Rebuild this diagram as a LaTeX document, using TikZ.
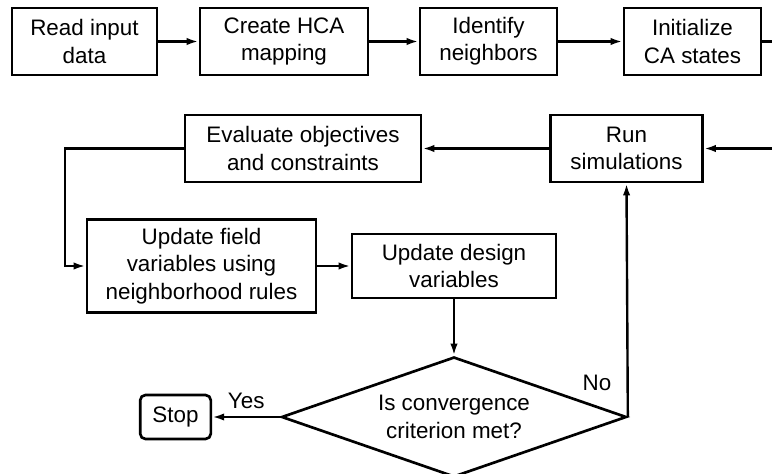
\documentclass[tikz,border=0pt]{standalone}
\usepackage{fontspec}
\setmainfont{Liberation Sans}
\usetikzlibrary{shapes.geometric,arrows.meta}

\tikzset{
  lbl/.style={font=\fontsize{16.8}{20.5}\selectfont},
  blk/.style={lbl, draw, line width=2pt, minimum height=50.25pt, align=center, inner sep=2pt},
  flow/.style={line width=1.8pt, -{Latex[length=9pt,width=5.5pt]}},
}

\begin{document}
\begin{tikzpicture}[x=0.75pt,y=-0.75pt]

    \useasboundingbox (0,0) rectangle (772,474);

    % Setup row
     \node[blk, minimum width=108.75pt] (read) at (84.5,41.5) {Read input\\data};
     \node[blk, minimum width=126pt] (hca) at (284,41.5) {Create HCA\\mapping};
     \node[blk, minimum width=102.75pt] (nbr) at (488.5,41.5) {Identify\\neighbors};
     \node[blk, minimum width=102.75pt] (init) at (692.5,41.5) {Initialize\\CA states};
     \draw[flow] (read) -- (hca);
     \draw[flow] (hca) -- (nbr);
     \draw[flow] (nbr) -- (init);

    % Simulation and evaluation
     \node[blk, minimum width=114pt] (run) at (626.5,148.5) {Run\\simulations};
     \node[blk, minimum width=177pt] (eval) at (303,148.5) {Evaluate objectives\\and constraints};
     \coordinate (rturn) at (790,41.5); % goes off the page on the right
     \draw[flow] (init.east) -- (rturn) |- (run.east);
     \draw[flow] (run.west) -- (eval.east);

    % Updates
     \node[blk, minimum width=171.75pt, minimum height=70pt] (field) at (201.5,266) {Update field\\variables using\\neighborhood rules};
     \node[blk, minimum width=153pt, minimum height=48pt] (design) at (454,266) {Update design\\variables};
     \coordinate (lturn) at (65,148.5);
     \draw[flow] (eval.west) -- (lturn) |- (field.west);
     \draw[flow] (field) -- (design);

    % Convergence test
     \node[blk, diamond, aspect=2.88, inner sep=0pt, minimum width=258.75pt, minimum height=90pt] (conv) at (454,417) {Is convergence\\criterion met?};
     \node[blk, rounded corners=4pt, minimum width=53pt, minimum height=33pt] (stop) at (175.5,417) {Stop};
     \draw[flow] (design) -- (conv);
     \draw[flow] (conv.west) -- (stop.east) node[lbl, midway, above=2pt] {Yes};
     \draw[flow] (conv.east) -- (run.south) node[lbl, pos=0.146, left=8pt] {No};

\end{tikzpicture}
\end{document}
